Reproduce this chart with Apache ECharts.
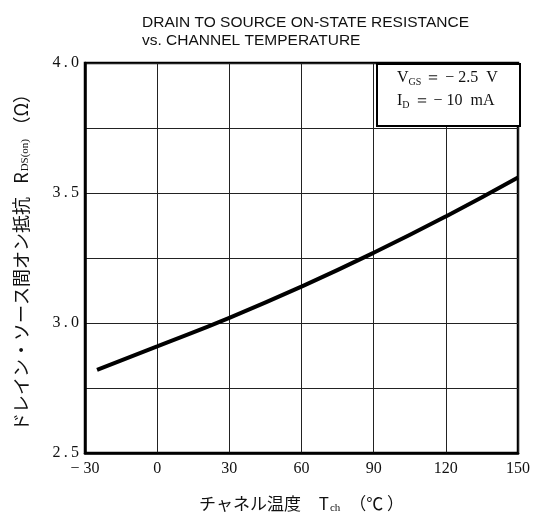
<!DOCTYPE html>
<html>
<head>
<meta charset="utf-8">
<script src="https://cdn.jsdelivr.net/npm/echarts@6/dist/echarts.min.js"></script>
<style>html,body{margin:0;padding:0;background:#fff}#c{width:533px;height:519px}</style>
</head>
<body>
<div id="c"></div>
<script>
const temps = [-25, 0, 30, 60, 90, 120, 150];
const resistance = [2.82, 2.91, 3.02, 3.14, 3.27, 3.41, 3.56];
const xTicks = [-30, 0, 30, 60, 90, 120, 150];
const yTicks = [2.5, 3.0, 3.5, 4.0];
const titleLines = ['DRAIN TO SOURCE ON-STATE RESISTANCE', 'vs. CHANNEL TEMPERATURE'];

const chart = echarts.init(document.getElementById('c'));
const serif = 'Liberation Serif';
const data = temps.map((t, i) => [t, resistance[i]]);

chart.setOption({
  animation: false,
  backgroundColor: '#fff',
  title: {
    text: titleLines.join('\n'),
    left: 137, top: 9,
    textStyle: { fontFamily: 'Liberation Sans', fontWeight: 'normal', fontSize: 15.5, lineHeight: 18, color: '#111' }
  },
  grid: { left: 85, right: 13, top: 63, bottom: 66, show: true, borderColor: '#000', borderWidth: 2.5 },
  xAxis: {
    type: 'value', min: -30, max: 150, interval: 30,
    axisLine: { show: true, onZero: false, lineStyle: { color: '#000', width: 2.5 } },
    axisTick: { show: false },
    splitLine: { show: true, lineStyle: { color: '#222', width: 1 } },
    axisLabel: {
      margin: 8, fontFamily: serif, fontSize: 16, color: '#111',
      formatter: v => xTicks.includes(v) ? (v < 0 ? '\u2212 ' + Math.abs(v) : String(v)) : ''
    },
    name: '{a|チャネル温度}{sp|    }{a|T}{s|ch}{sp|  }{a|（℃ ）}',
    nameLocation: 'middle', nameGap: 40,
    nameTextStyle: {
      rich: {
        a: { fontFamily: 'Noto Sans CJK JP', fontSize: 17, color: '#111', lineHeight: 22 },
        sp: { fontSize: 16, lineHeight: 22 },
        s: { fontFamily: serif, fontSize: 11, color: '#111', lineHeight: 22, padding: [9, 0, 0, 1] }
      }
    }
  },
  yAxis: {
    type: 'value', min: 2.5, max: 4.0, interval: 0.25,
    axisLine: { show: true, onZero: false, lineStyle: { color: '#000', width: 2.5 } },
    axisTick: { show: false },
    splitLine: { show: true, lineStyle: { color: '#222', width: 1 } },
    axisLabel: {
      margin: 6, fontFamily: serif, fontSize: 16, color: '#111',
      formatter: v => yTicks.some(t => Math.abs(t - v) < 1e-9) ? v.toFixed(1).split('').join('\u2009') : ''
    },
    name: '{a|ドレイン・ソース間オン抵抗}{sp|   }{a|R}{s|DS(on)}{sp| }{a|（Ω）}',
    nameLocation: 'middle', nameGap: 53, nameRotate: 90,
    nameTextStyle: {
      rich: {
        a: { fontFamily: 'Noto Sans CJK JP', fontSize: 18, color: '#111', lineHeight: 22 },
        sp: { fontSize: 16, lineHeight: 22 },
        s: { fontFamily: serif, fontSize: 11, color: '#111', lineHeight: 22, padding: [9, 0, 0, 1] }
      }
    }
  },
  series: [{
    type: 'line', data: data, smooth: true, symbol: 'none',
    lineStyle: { color: '#000', width: 4 }
  }],
  graphic: [
    { type: 'rect', left: 376, top: 63, shape: { width: 143, height: 62 }, style: { fill: '#fff', stroke: '#000', lineWidth: 2 }, z: 10 },
    { type: 'text', left: 397, top: 69, z: 11,
      style: {
        text: '{a|V}{s|GS}{a| ＝ − 2.5  V}\n{a|I}{s|D}{a| ＝ − 10  mA}',
        rich: {
          a: { fontFamily: serif, fontSize: 16, fill: '#111', lineHeight: 23 },
          s: { fontFamily: serif, fontSize: 10, fill: '#111', lineHeight: 23, padding: [8, 0, 0, 0] }
        }
      }
    }
  ]
});
</script>
</body>
</html>
